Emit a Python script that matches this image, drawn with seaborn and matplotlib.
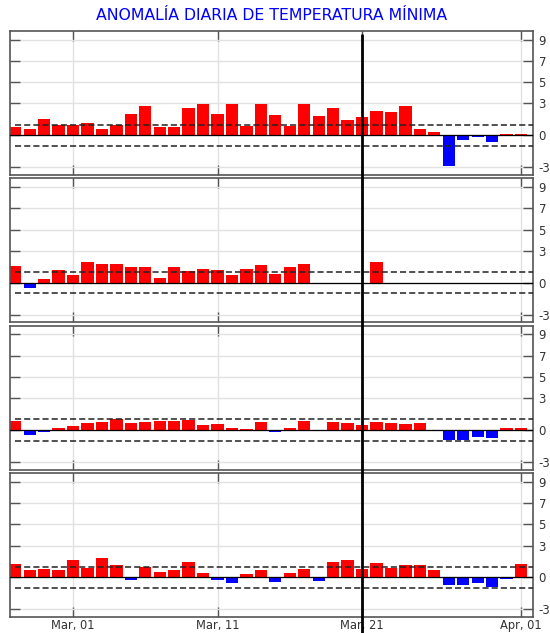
import numpy as np
import pandas as pd
import matplotlib
matplotlib.use("Agg")
import matplotlib.pyplot as plt
import matplotlib.dates as mdates
import matplotlib.ticker as mticker
from matplotlib.lines import Line2D
import seaborn as sns

# Daily minimum-temperature anomalies (°C), 25 Feb – 1 Apr
dates = pd.date_range("2023-02-25", "2023-04-01", freq="D")

anom_1 = [0.75, 0.57, 1.54, 1.0, 1.0, 1.16, 0.63, 1.0, 2.04, 2.77, 0.75, 0.75,
          2.58, 2.96, 2.04, 2.96, 0.85, 2.96, 1.88, 0.85, 2.96, 1.86, 2.58, 1.45,
          1.76, 2.33, 2.17, 2.77, 0.63, 0.28, -2.86, -0.47, -0.16, -0.66, 0.16, 0.16]

anom_2 = [1.57, -0.5, 0.35, 1.16, 0.75, 1.95, 1.76, 1.76, 1.48, 1.48, 0.44, 1.48,
          1.07, 1.32, 1.16, 0.75, 1.32, 1.67, 0.85, 1.48, 1.76, None, None, None,
          None, 1.95, None, None, None, None, None, None, None, None, None, None]

anom_3 = [0.85, -0.47, -0.16, 0.16, 0.35, 0.63, 0.75, 1.04, 0.63, 0.75, 0.85, 0.85,
          0.97, 0.44, 0.53, 0.16, 0.06, 0.75, -0.16, 0.16, 0.85, 0.03, 0.75, 0.63,
          0.44, 0.75, 0.63, 0.53, 0.63, 0.03, -0.97, -0.97, -0.63, -0.75, 0.22, 0.22]

anom_4 = [1.26, 0.66, 0.75, 0.66, 1.67, 0.85, 1.82, 1.16, -0.25, 1.0, 0.53, 0.66,
          1.48, 0.44, -0.25, -0.53, 0.35, 0.66, -0.44, 0.44, 0.75, -0.31, 1.48, 1.67,
          0.75, 1.32, 0.85, 1.16, 1.16, 0.66, -0.69, -0.75, -0.53, -0.88, -0.13, 1.26]

series = [anom_1, anom_2, anom_3, anom_4]

y_ticks = [-3, 0, 3, 5, 7, 9]
x_tick_dates = pd.to_datetime(["2023-03-01", "2023-03-11", "2023-03-21", "2023-04-01"])
marker_date = pd.Timestamp("2023-03-21")
band = 1.0
title = "ANOMALÍA DIARIA DE TEMPERATURA MÍNIMA"

sns.set_theme(style="white")
plt.rcParams["font.family"] = ["DejaVu Sans"]
plt.rcParams["axes.unicode_minus"] = False

W, H = 550, 633
fig, axes = plt.subplots(4, 1, figsize=(W / 100, H / 100), dpi=100, sharex=True)
fig.subplots_adjust(left=10 / W, right=533 / W, top=1 - 31 / H, bottom=1 - 617 / H,
                    hspace=0.024)

xnum = mdates.date2num(dates)
x_left = xnum[0] - 0.36
x_right = xnum[-1] + 0.83

for i, (ax, vals) in enumerate(zip(axes, series)):
    df = pd.DataFrame({"x": xnum, "v": pd.to_numeric(pd.Series(vals), errors="coerce")})
    df = df.dropna()
    df["s"] = np.where(df["v"] >= 0, "pos", "neg")
    sns.barplot(data=df, x="x", y="v", hue="s", hue_order=["pos", "neg"],
                palette={"pos": "#ff0000", "neg": "#0000ff"}, native_scale=True,
                dodge=False, width=0.85, errorbar=None, legend=False,
                saturation=1, linewidth=0, ax=ax)
    ax.set_xlabel("")
    ax.set_ylabel("")
    ax.set_xlim(x_left, x_right)
    ax.set_ylim(-3.73, 9.82)

    ax.axhline(0, color="black", lw=0.9, zorder=3)
    ax.hlines([band, -band], xnum[0], x_right, colors="#222222",
              linestyles=(0, (4, 2)), lw=1.1, zorder=3)

    ax.yaxis.set_major_locator(mticker.FixedLocator(y_ticks))
    ax.xaxis.set_major_locator(mticker.FixedLocator(mdates.date2num(x_tick_dates)))
    ax.xaxis.set_major_formatter(mdates.DateFormatter("%b, %d"))

    ax.grid(True, color="#e2e2e2", lw=1)
    ax.set_axisbelow(True)

    ax.tick_params(axis="y", which="major", direction="in", length=7.5, width=1,
                   left=True, right=True, labelleft=False, labelright=True,
                   labelsize=8.5, color="#555555", labelcolor="#333333", pad=4)
    ax.tick_params(axis="x", which="major", direction="in", length=7.5, width=1,
                   top=True, bottom=True, labelbottom=(i == 3),
                   labelsize=8.3, color="#555555", labelcolor="#333333", pad=1.5)
    for sp in ax.spines.values():
        sp.set_color("#555555")
        sp.set_linewidth(1.2)
        sp.set_visible(True)

fig.text(271.5 / W, 1 - 16 / H, title, ha="center", va="center",
         color="#0000ff", fontsize=11.3)

# Vertical reference marker across all panels
xd = axes[0].transData.transform((mdates.date2num(marker_date), 0))[0]
xf = fig.transFigure.inverted().transform((xd, 0))[0]
fig.add_artist(Line2D([xf, xf], [0, 1 - 35 / H], transform=fig.transFigure,
                      color="black", lw=2.0, zorder=10))

fig.savefig("out.png", dpi=100)
